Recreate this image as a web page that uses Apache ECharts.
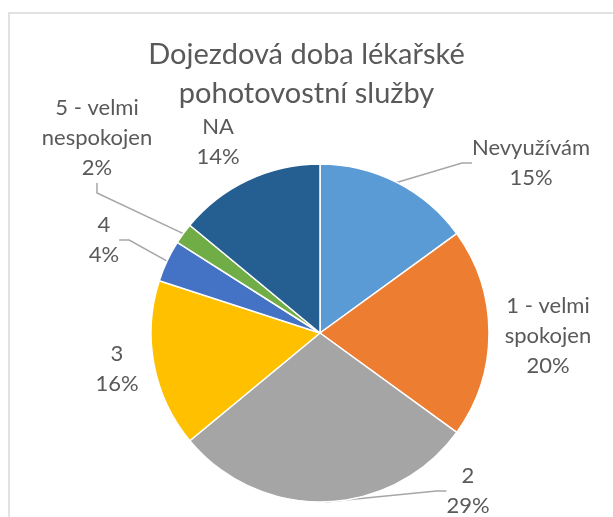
<!DOCTYPE html>
<html>
<head>
<meta charset="utf-8">
<script src="https://cdn.jsdelivr.net/npm/echarts@6/dist/echarts.min.js"></script>
<style>
  html, body { margin: 0; padding: 0; background: #fff; }
  #chart-container { width: 613px; height: 517px; }
</style>
</head>
<body>
<div id="chart-container"></div>
<script>
var titleText = 'Dojezdová doba lékařské\npohotovostní služby';
var categories = ['Nevyužívám', '1 - velmi\nspokojen', '2', '3', '4', '5 - velmi\nnespokojen', 'NA'];
var shares = [15, 20, 29, 16, 4, 2, 14];
var colors = ['#5b9bd5', '#ed7d31', '#a5a5a5', '#ffc000', '#4472c4', '#70ad47', '#255e91'];
var hasLeader = [true, false, true, false, true, true, false];
// label block centres, as Excel placed them
var labelSpots = [[531, 163], [548, 336], [468, 491], [117, 369], [104, 240], [97, 138], [218, 142]];

var dom = document.getElementById('chart-container');
var myChart = echarts.init(dom, null, { renderer: 'canvas' });

var pieData = categories.map(function (name, i) {
  return {
    name: name,
    value: shares[i],
    itemStyle: { color: colors[i] },
    labelLine: { show: hasLeader[i] }
  };
});

var option = {
  animation: false,
  title: {
    text: titleText,
    left: 'center',
    top: 30,
    textStyle: {
      fontFamily: 'Lato',
      fontSize: 29,
      fontWeight: 'normal',
      color: '#595959',
      lineHeight: 39
    }
  },
  graphic: [{
    type: 'rect',
    shape: { x: 9, y: 13, width: 640, height: 540 },
    style: { fill: 'none', stroke: '#d9d9d9', lineWidth: 1.5 },
    silent: true
  }],
  series: [{
    type: 'pie',
    center: [320, 333],
    radius: [0, 169],
    startAngle: 90,
    clockwise: true,
    data: pieData,
    itemStyle: { borderColor: '#ffffff', borderWidth: 1.5 },
    label: {
      show: true,
      position: 'outside',
      formatter: function (p) { return p.name + '\n' + p.value + '%'; },
      fontFamily: 'Lato',
      fontSize: 22,
      lineHeight: 30,
      color: '#595959',
      align: 'center'
    },
    labelLine: {
      show: true,
      length: 10,
      length2: 10,
      lineStyle: { color: '#a6a6a6', width: 1.5 }
    },
    labelLayout: function (params) {
      var spot = labelSpots[params.dataIndex];
      return {
        x: spot[0],
        y: spot[1],
        align: 'center',
        verticalAlign: 'middle'
      };
    }
  }]
};

myChart.setOption(option);
window.addEventListener('resize', myChart.resize);
</script>
</body>
</html>
